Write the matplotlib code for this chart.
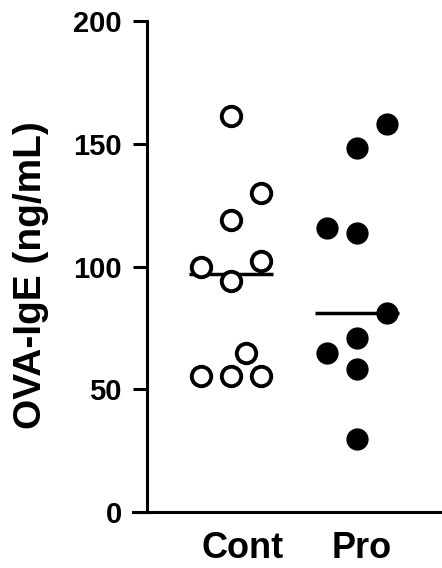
import matplotlib
matplotlib.use("Agg")
import matplotlib.pyplot as plt

plt.rcParams['font.family'] = ['Liberation Sans', 'DejaVu Sans']
plt.rcParams['font.weight'] = 'bold'

# data
groups = ['Cont', 'Pro']
cont_values = [161.5, 130, 119, 99.7, 102.4, 94, 64.7, 55.4, 55.4, 55.4]
cont_offsets = [0, 0.238, 0, -0.238, 0.238, 0, 0.119, -0.238, 0, 0.238]
pro_values = [158, 148.3, 115.6, 113.8, 81.2, 70.8, 64.7, 58.1, 29.6]
pro_offsets = [0.238, 0, -0.238, 0, 0.238, 0, -0.238, 0, 0]
medians = [97, 81]
yticks = [0, 50, 100, 150, 200]

fig = plt.figure(figsize=(4.42, 5.68), dpi=100)
ax = fig.add_axes([133 / 442, 1 - 512 / 568, 309 / 442, 491 / 568])

ax.plot([1 + o for o in cont_offsets], cont_values, 'o', ms=14, mfc='white',
        mec='black', mew=2.8, clip_on=False, zorder=3)
ax.plot([2 + o for o in pro_offsets], pro_values, 'o', ms=15, mfc='black',
        mec='black', mew=1, clip_on=False, zorder=3)
for i, m in enumerate(medians):
    ax.hlines(m, i + 1 - 0.333, i + 1 + 0.333, color='black', lw=2.5, zorder=2)

ax.set_xlim(0.222, 2.675)
ax.set_ylim(0, 200)
ax.spines['left'].set_position(('data', 0.3333))
ax.spines['top'].set_visible(False)
ax.spines['right'].set_visible(False)
for s in ['left', 'bottom']:
    ax.spines[s].set_linewidth(2.2)

ax.set_yticks(yticks)
ax.tick_params(axis='y', direction='out', length=10, width=2.2, pad=8,
               labelsize=21)
ax.set_xticks([1.095, 2.04])
ax.set_xticklabels(groups)
ax.tick_params(axis='x', length=0, pad=14, labelsize=26)
for lab in ax.get_yticklabels() + ax.get_xticklabels():
    lab.set_fontweight('bold')

ax.set_ylabel('OVA-IgE (ng/mL)', fontsize=28, fontweight='bold', va='center')
ax.yaxis.set_label_coords(-0.33, 0.483)

fig.savefig('out.png', dpi=100)
